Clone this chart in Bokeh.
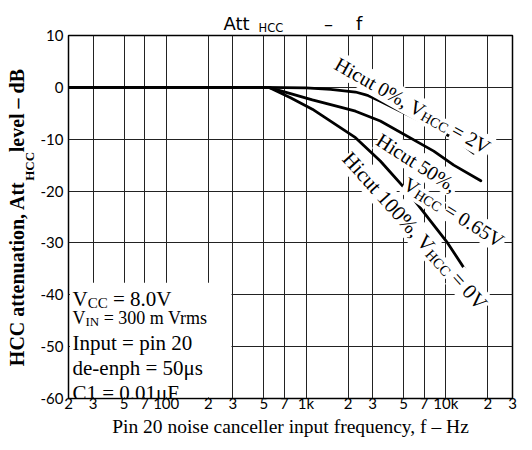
import math
from bokeh.plotting import figure
from bokeh.models import FixedTicker, Label, BoxAnnotation
from bokeh.embed import file_html
from bokeh.resources import INLINE

# ---------------- data ----------------
X_TICKS = [20, 30, 50, 70, 100, 200, 300, 500, 700, 1000, 2000, 3000, 5000, 7000, 10000, 20000, 30000]
X_TICK_LABELS = ["2", "3", "5", "7", "100", "2", "3", "5", "7", "1k", "2", "3", "5", "7", "10k", "2", "3"]
Y_TICKS = [-60, -50, -40, -30, -20, -10, 0, 10]
Y_TICK_LABELS = ["-60", "-50", "-40", "-30", "-20", "-10", "0", "10"]

# Hicut 0%, VHCC = 2V
F_0 = [20, 500, 1000, 1500, 2260, 2800, 3400, 4740, 6590, 9160, 11700, 15800]
DB_0 = [0, 0, -0.1, -0.4, -0.9, -1.6, -2.7, -4.6, -6.5, -8.5, -10.0, -12.7]
# Hicut 50%, VHCC = 0.65V
F_50 = [20, 540, 775, 1110, 1760, 2260, 3400, 8200, 11400, 17800]
DB_50 = [0, 0, -1.2, -2.4, -3.8, -4.6, -6.5, -12.3, -15.0, -18.0]
# Hicut 100%, VHCC = 0V
F_100 = [20, 540, 775, 1110, 2260, 3400, 5300, 9200, 10300, 17800]
DB_100 = [0, 0, -2.0, -4.2, -9.7, -14.2, -20.0, -28.3, -30.0, -39.8]

# ---------------- layout ----------------
W, H = 532, 450
FL, FT, FW, FH = 68, 34, 444, 364
XMIN, XMAX, YMIN, YMAX = 20, 30000, -60, 10

p = figure(width=W, height=H, x_axis_type="log", x_range=(XMIN, XMAX), y_range=(YMIN, YMAX),
           output_backend="svg", toolbar_location=None,
           min_border_left=FL, min_border_right=W - FL - FW,
           min_border_top=FT, min_border_bottom=H - FT - FH)
p.background_fill_color = "white"
p.border_fill_color = "white"
p.outline_line_color = "black"
p.outline_line_width = 1.5

p.xaxis.ticker = FixedTicker(ticks=X_TICKS)
p.xaxis.major_label_overrides = {t: l for t, l in zip(X_TICKS, X_TICK_LABELS)}
p.yaxis.ticker = FixedTicker(ticks=Y_TICKS)
p.yaxis.major_label_overrides = {t: l for t, l in zip(Y_TICKS, Y_TICK_LABELS)}
for ax in (p.xaxis, p.yaxis):
    ax.axis_line_color = None
    ax.major_tick_line_color = None
    ax.minor_tick_line_color = None
    ax.major_tick_in = 0
    ax.major_tick_out = 0
    ax.major_label_text_font = "Lato"
    ax.major_label_text_font_size = "15px"
    ax.major_label_text_color = "black"
    ax.axis_label_text_font = "Liberation Serif"
    ax.axis_label_text_color = "black"
p.xaxis.major_label_standoff = -5
p.yaxis.major_label_standoff = 5

p.xgrid.grid_line_color = "#222222"
p.ygrid.grid_line_color = "#222222"
p.xgrid.grid_line_width = 1
p.ygrid.grid_line_width = 1

for f, db in ((F_0, DB_0), (F_50, DB_50), (F_100, DB_100)):
    p.line(f, db, line_width=2.8, color="black", line_join="round", line_cap="round")

# picture pixel -> data helpers
def dx(px):
    return XMIN * 10 ** ((px - FL) / FW * math.log10(XMAX / XMIN))

def dy(py):
    return YMAX - (py - FT) / FH * (YMAX - YMIN)

REG = {' ': 250, '%': 833, ',': 250, '-': 333, '.': 250, '=': 564, 'A': 722, 'C': 667, 'F': 556,
       'H': 722, 'I': 333, 'N': 722, 'V': 722, 'a': 444, 'c': 444, 'd': 500, 'e': 444, 'h': 500,
       'i': 278, 'm': 778, 'n': 500, 'p': 500, 'r': 333, 's': 389, 't': 278, 'u': 500, 'μ': 520}
BOLD = {' ': 250, '\u00a0': 250, ',': 250, '–': 500, 'A': 722, 'B': 667, 'C': 722, 'H': 778,
        'a': 500, 'd': 556, 'e': 444, 'i': 278, 'l': 278, 'n': 556, 'o': 500, 't': 333, 'u': 556,
        'v': 500}

def tw(s, size, table):
    return sum(table.get(c, 500) for c in s) / 1000.0 * size

BG_LABELS, TEXT_LABELS = [], []

def place(segs, x0, y0, ang_deg, font="Liberation Serif", style="normal", bg=False):
    table = BOLD if style == "bold" else REG
    a = math.radians(ang_deg)
    d = (math.cos(a), math.sin(a))
    n = (-math.sin(a), math.cos(a))
    pos = 0.0
    for text, size, shift in segs:
        stripped = text.lstrip(" ")
        pos += tw(text[:len(text) - len(stripped)], size, table)
        px = x0 + pos * d[0] + shift * n[0]
        py = y0 + pos * d[1] + shift * n[1]
        common = dict(x=dx(px), y=dy(py), text=stripped, angle=-a, text_font=font,
                      text_font_size=f"{size}px", text_font_style=style,
                      text_baseline="alphabetic", text_align="left")
        if bg:
            BG_LABELS.append(Label(text_color="white", background_fill_color="white",
                                   background_fill_alpha=1.0, padding=1, **common))
        TEXT_LABELS.append(Label(text_color="black", **common))
        pos += tw(stripped, size, table)

def side_text(side, px, py, text, angle=0.0, font="DejaVu Sans", size=19, style="normal"):
    # a label kept in a side panel is drawn outside the frame (positions are still data based)
    p.add_layout(Label(x=dx(px), y=dy(py), text=text, angle=angle, text_font=font,
                       text_font_size=f"{size}px", text_font_style=style, text_color="black",
                       text_baseline="alphabetic", text_align="left"), side)

# white box behind the condition text
p.add_layout(BoxAnnotation(left=dx(69.5), right=dx(231), bottom=dy(396.8), top=dy(282),
                           fill_color="white", fill_alpha=1.0, line_color=None))

# condition text
S = 21
place([("V", S, 0), ("CC", 15, 4), (" = 8.0V", S, 0)], 72, 298, 0)
place([("V", 18, 0), ("IN", 13, 3.5), (" = 300 m Vrms", 18, 0)], 72, 317, 0)
place([("Input = pin 20", S, 0)], 72, 342, 0)
place([("de-enph = 50μs", S, 0)], 72, 367, 0)
place([("C1 = 0.01μF", S, 0)], 72, 392, 0)

# curve labels
place([("Hicut 0%, V", 20, 0), ("HCC", 14, 4), (" = 2V", 20, 0)], 336, 61, 29.5, bg=True)
place([("Hicut 50%,", 20, 0)], 378, 137, 32.5, bg=True)
place([("V", 20, 0), ("HCC", 14, 4), (" = 0.65V", 20, 0)], 405, 181, 32, bg=True)
place([("Hicut 100%, V", 21, 0), ("HCC", 14.5, 4), (" = 0V", 21, 0)], 346, 154, 48, bg=True)

for lab in BG_LABELS + TEXT_LABELS:
    p.add_layout(lab)

# x axis label
p.xaxis.axis_label = "Pin 20 noise canceller input frequency, f – Hz"
p.xaxis.axis_label_text_font_size = "19.5px"
p.xaxis.axis_label_text_font_style = "normal"
p.xaxis.axis_label_standoff = 1

# y axis label with a gap for the subscript
YS = 20
Y_MAIN, Y_SUB, Y_REST = "HCC attenuation, Att", "HCC", " level – dB"
GAP = "\u00a0" * 5
p.yaxis.axis_label = Y_MAIN + GAP + Y_REST
p.yaxis.axis_label_text_font_size = f"{YS}px"
p.yaxis.axis_label_text_font_style = "bold"
p.yaxis.axis_label_standoff = 10
L = tw(Y_MAIN + GAP + Y_REST, YS, BOLD)
y_top = (FT + FH / 2) - L / 2
y_sub = y_top + tw(Y_REST + GAP, YS, BOLD) - 0.5
side_text("right", 28.5, y_sub, Y_SUB, angle=math.pi / 2, font="Liberation Serif", size=13,
          style="bold")

# title: both parts in the top panel
T_MAIN = "Att" + "\u00a0" * 13 + "–" + "\u00a0" * 4 + "f"
side_text("above", 223, 22.3, T_MAIN, size=18)
side_text("above", 258, 26.5, "HCC", size=11.5)

open("out.html", "w").write(file_html(p, INLINE))
